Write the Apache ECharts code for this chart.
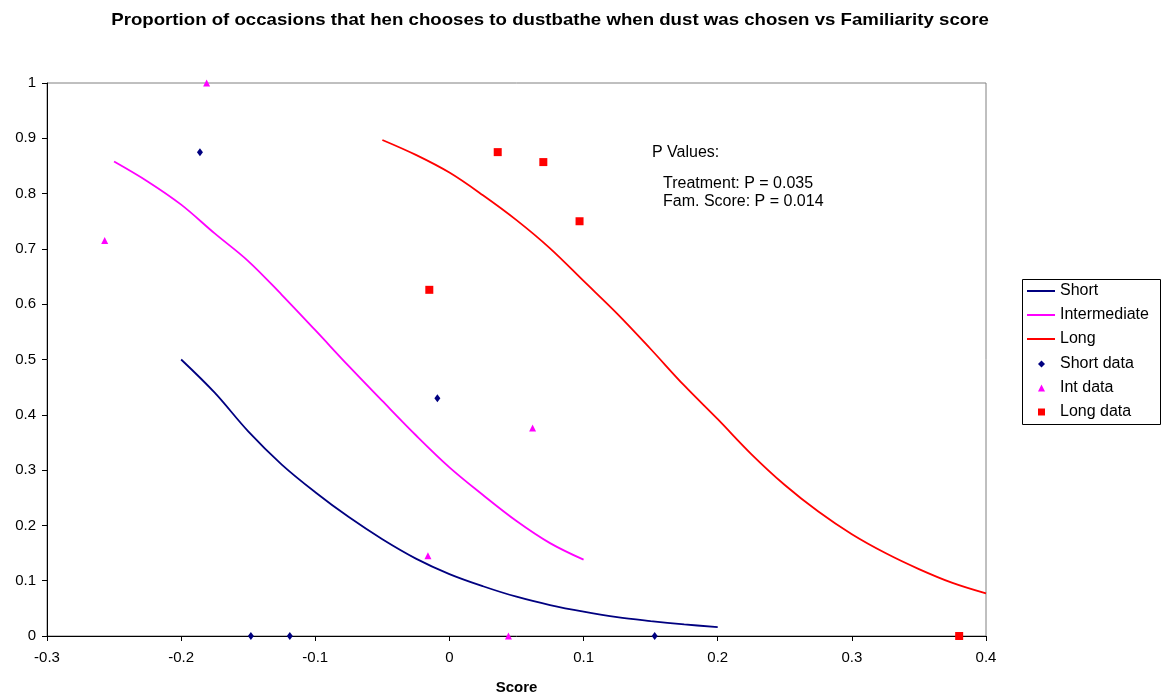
<!DOCTYPE html>
<html>
<head>
<meta charset="utf-8">
<script src="https://cdn.jsdelivr.net/npm/echarts@6/dist/echarts.min.js"></script>
<style>html,body{margin:0;padding:0;background:#fff;overflow:hidden;}#c{width:1161px;height:695px;}</style>
</head>
<body>
<div id="c"></div>
<script>
// Fitted curves
const shortX = [-0.2,-0.175,-0.15,-0.125,-0.1,-0.075,-0.05,-0.025,0,0.025,0.05,0.075,0.1,0.125,0.15,0.175,0.2];
const shortY = [0.50,0.44,0.37,0.31,0.26,0.215,0.175,0.14,0.112,0.09,0.071,0.056,0.044,0.034,0.027,0.021,0.016];
const intX = [-0.25,-0.225,-0.2,-0.175,-0.15,-0.125,-0.1,-0.075,-0.05,-0.025,0,0.025,0.05,0.075,0.1];
const intY = [0.858,0.822,0.78,0.728,0.678,0.617,0.553,0.488,0.425,0.363,0.305,0.255,0.208,0.168,0.138];
const longX = [-0.05,-0.025,0,0.025,0.05,0.075,0.1,0.125,0.15,0.175,0.2,0.225,0.25,0.275,0.3,0.325,0.35,0.375,0.4];
const longY = [0.897,0.87,0.838,0.797,0.752,0.701,0.642,0.583,0.519,0.453,0.392,0.329,0.273,0.225,0.184,0.150,0.121,0.096,0.077];
// Observed data
const shortDataX = [-0.186,-0.009,-0.148,-0.119,0.153];
const shortDataY = [0.875,0.43,0,0,0];
const intDataX = [-0.257,-0.181,0.062,-0.016,0.044];
const intDataY = [0.715,1.0,0.376,0.145,0];
const longDataX = [0.036,0.070,0.097,-0.015,0.380];
const longDataY = [0.875,0.857,0.75,0.626,0];
const annotations = ["P Values:", "Treatment: P = 0.035", "Fam. Score: P = 0.014"];
const titleText = "Proportion of occasions that hen chooses to dustbathe when dust was chosen vs Familiarity score";
const xName = "Score";

const zip = (xs, ys) => xs.map((x, i) => [x, ys[i]]);
const F = 'Arial, "Liberation Sans", sans-serif';
const fmt = v => (Math.round(v * 10) / 10).toString();

const legendText = {fontFamily: F, fontSize: 16, color: '#000', lineHeight: 16};

const chart = echarts.init(document.getElementById('c'), null, {renderer: 'canvas'});
chart.setOption({
  animation: false,
  backgroundColor: '#fff',
  grid: {left: 47, right: 175, top: 83, bottom: 59, containLabel: false, outerBoundsMode: 'none',
    show: true, borderColor: '#808080', borderWidth: 1, backgroundColor: 'transparent'},
  xAxis: {
    type: 'value', min: -0.3, max: 0.4, interval: 0.1,
    name: xName, nameLocation: 'middle', nameGap: 44,
    nameTextStyle: {fontFamily: F, fontSize: 15, fontWeight: 'bold', color: '#000'},
    axisLine: {onZero: false, lineStyle: {color: '#000', width: 1}},
    axisTick: {show: true, inside: false, length: 5, lineStyle: {color: '#000'}},
    axisLabel: {fontFamily: F, fontSize: 15, color: '#000', margin: 14, formatter: fmt},
    splitLine: {show: false}
  },
  yAxis: {
    type: 'value', min: 0, max: 1, interval: 0.1,
    axisLine: {show: true, onZero: false, lineStyle: {color: '#000', width: 1}},
    axisTick: {show: true, inside: false, length: 5, lineStyle: {color: '#000'}},
    axisLabel: {fontFamily: F, fontSize: 15, color: '#000', margin: 11, formatter: fmt},
    splitLine: {show: false}
  },
  legend: [
    {
      orient: 'vertical', left: 1027, top: 283, padding: 0,
      itemGap: 8, itemWidth: 28, itemHeight: 2, symbolKeepAspect: false,
      textStyle: legendText,
      data: [
        {name: 'Short', icon: 'rect'},
        {name: 'Intermediate', icon: 'rect'},
        {name: 'Long', icon: 'rect'}
      ]
    },
    {
      orient: 'vertical', left: 1038, top: 356, padding: 0,
      itemGap: 8, itemWidth: 7, itemHeight: 7,
      textStyle: Object.assign({}, legendText, {padding: [0, 0, 0, 10]}),
      data: [
        {name: 'Short data', icon: 'diamond'},
        {name: 'Int data', icon: 'triangle'},
        {name: 'Long data', icon: 'rect'}
      ]
    }
  ],
  series: [
    {name: 'Short', type: 'line', data: zip(shortX, shortY), showSymbol: false, symbol: 'none', smooth: 0.35, lineStyle: {color: '#000080', width: 1.8}, itemStyle: {color: '#000080'}},
    {name: 'Intermediate', type: 'line', data: zip(intX, intY), showSymbol: false, symbol: 'none', smooth: 0.35, lineStyle: {color: '#FF00FF', width: 1.8}, itemStyle: {color: '#FF00FF'}},
    {name: 'Long', type: 'line', data: zip(longX, longY), showSymbol: false, symbol: 'none', smooth: 0.35, lineStyle: {color: '#FF0000', width: 1.8}, itemStyle: {color: '#FF0000'}},
    {name: 'Short data', type: 'scatter', data: zip(shortDataX, shortDataY), symbol: 'diamond', symbolSize: [6, 8], itemStyle: {color: '#000080', opacity: 1}},
    {name: 'Int data', type: 'scatter', data: zip(intDataX, intDataY), symbol: 'triangle', symbolSize: [7, 7], itemStyle: {color: '#FF00FF', opacity: 1}},
    {name: 'Long data', type: 'scatter', data: zip(longDataX, longDataY), symbol: 'rect', symbolSize: 8, itemStyle: {color: '#FF0000', opacity: 1}}
  ],
  graphic: [
    {type: 'text', x: 550, y: 20, scaleX: 1.13, originX: 0, style: {text: titleText, font: 'bold 16.5px ' + F, fill: '#000', align: 'center', verticalAlign: 'middle'}},
    {type: 'rect', shape: {x: 1022.5, y: 279.5, width: 138, height: 145}, style: {fill: 'none', stroke: '#000', lineWidth: 1}, z: -1},
    {type: 'text', x: 652, y: 153, style: {text: annotations[0], font: '16px ' + F, fill: '#000', verticalAlign: 'middle'}},
    {type: 'text', x: 663, y: 184, style: {text: annotations[1], font: '16px ' + F, fill: '#000', verticalAlign: 'middle'}},
    {type: 'text', x: 663, y: 202, style: {text: annotations[2], font: '16px ' + F, fill: '#000', verticalAlign: 'middle'}}
  ]
});
</script>
</body>
</html>
